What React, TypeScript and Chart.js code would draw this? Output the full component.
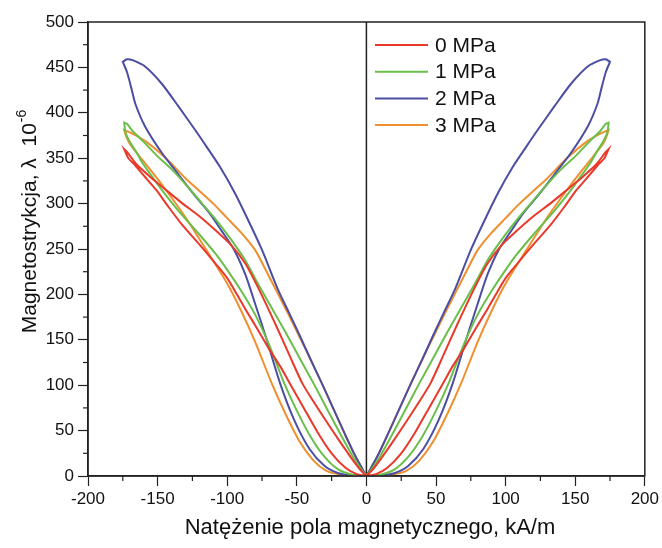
import React, { useEffect, useRef } from 'react';
import { Chart, registerables } from 'chart.js';
Chart.register(...registerables);

const seriesLabels = ['0 MPa', '1 MPa', '2 MPa', '3 MPa'];
const seriesColors = ['#e8392b', '#6abf4b', '#4b4ea3', '#ef8f2f'];

// Right half of each butterfly loop: [H (kA/m), λ (1e-6)]
// outer (rising) branch from 0 to the tip, inner (falling) branch back to 0
const rise0 = [[0,0],[5,8],[10,18],[20,40],[30,63],[38,82],[46,102],[55,132],[65,166],[77,205],[87,234],[97,254],[108,270],[120,286],[132,300],[144,315],[155,329],[165,343],[172,357],[174,360]];
const fall0 = [[174,360],[171,350],[166,342],[160,331],[151,315],[142,296],[132,276],[120,255],[109,235],[100,218],[93,200],[87,184],[78,161],[70,140],[62,121],[55,102],[45,75],[35,48],[25,25],[15,9],[7,2],[0,0]];

const rise1 = [[0,0],[5,10],[10,22],[19,47],[28,73],[38,102],[48,130],[58,158],[68,185],[78,212],[88,240],[98,262],[108,282],[118,300],[128,318],[140,338],[150,352],[160,368],[168,380],[172,388],[174,389]];
const fall1 = [[174,389],[173,378],[170,368],[165,356],[161,345],[154,330],[147,315],[135,292],[120,266],[108,244],[100,227],[90,204],[80,178],[70,145],[59,102],[50,72],[40,43],[30,21],[20,7],[10,1.5],[0,0]];

const rise2 = [[0,0],[8,22],[16,48],[24,75],[32,102],[40,128],[48,155],[56,181],[64,207],[75,249],[85,282],[95,313],[105,340],[115,363],[123,381],[135,407],[147,432],[159,451],[168,458],[172,459],[175,456]];
const fall2 = [[175,456],[172,445],[169,428],[166,410],[159,385],[147,356],[135,332],[125,312],[113,290],[104,270],[95,249],[87,222],[80,190],[72,152],[62,102],[52,62],[41,30],[30,11],[20,3],[10,0.5],[0,0]];

const rise3 = [[0,0],[8,22],[16,48],[24,75],[32,102],[40,128],[48,153],[56,178],[64,202],[72,226],[80,249],[90,268],[100,284],[110,300],[120,314],[130,328],[144,350],[158,368],[168,377],[174,381]];
const fall3 = [[174,381],[172,372],[170,366],[163,352],[154,335],[144,315],[130,285],[115,249],[100,212],[90,182],[80,148],[68,102],[58,68],[48,38],[38,17],[29,6],[20,2],[10,0.5],[0,0]];

const xMinorTicks = [-175, -125, -75, -25, 25, 75, 125, 175];
const yMinorTicks = [25, 75, 125, 175, 225, 275, 325, 375, 425, 475];

const xTitle = 'Natężenie pola magnetycznego, kA/m';
const yTitle = 'Magnetostrykcja, λ  10';
const yTitleSup = '-6';

const FONT = '"Liberation Sans", Arial, sans-serif';

function loop(rise: number[][], fall: number[][]) {
  const half = [...rise, ...fall];
  const right = half.map(([x, y]) => ({ x, y }));
  const left = half.map(([x, y]) => ({ x: -x, y }));
  return [...right, ...left];
}

const seriesData = [loop(rise0, fall0), loop(rise1, fall1), loop(rise2, fall2), loop(rise3, fall3)];

const decor = {
  id: 'decor',
  beforeDatasetsDraw(chart: any) {
    const { ctx, chartArea: a, scales } = chart;
    const px = scales.x.getPixelForValue(0);
    ctx.save();
    ctx.strokeStyle = '#222';
    ctx.lineWidth = 1.5;
    ctx.beginPath();
    ctx.moveTo(px, a.top);
    ctx.lineTo(px, a.bottom);
    ctx.stroke();
    ctx.restore();
  },
  afterDraw(chart: any) {
    const { ctx, chartArea: a, scales } = chart;
    ctx.save();
    ctx.strokeStyle = '#222';
    ctx.lineWidth = 1.5;
    ctx.strokeRect(a.left, a.top, a.right - a.left, a.bottom - a.top);
    ctx.lineWidth = 1.2;
    for (const v of xMinorTicks) {
      const p = scales.x.getPixelForValue(v);
      ctx.beginPath();
      ctx.moveTo(p, a.bottom);
      ctx.lineTo(p, a.bottom + 5);
      ctx.stroke();
    }
    for (const v of yMinorTicks) {
      const p = scales.y.getPixelForValue(v);
      ctx.beginPath();
      ctx.moveTo(a.left, p);
      ctx.lineTo(a.left - 5, p);
      ctx.stroke();
    }
    // legend
    ctx.font = `21px ${FONT}`;
    ctx.textBaseline = 'middle';
    ctx.textAlign = 'left';
    seriesLabels.forEach((lab, i) => {
      const yy = 45 + i * 26.7;
      ctx.strokeStyle = seriesColors[i];
      ctx.lineWidth = 2;
      ctx.beginPath();
      ctx.moveTo(375, yy);
      ctx.lineTo(428, yy);
      ctx.stroke();
      ctx.fillStyle = '#111';
      ctx.fillText(lab, 435, yy + 1);
    });
    // x title
    ctx.font = `22px ${FONT}`;
    ctx.textAlign = 'center';
    ctx.fillStyle = '#111';
    ctx.fillText(xTitle, 370, 528);
    // y title
    ctx.translate(30, 222);
    ctx.rotate(-Math.PI / 2);
    ctx.font = `21px ${FONT}`;
    const w1 = ctx.measureText(yTitle).width;
    ctx.font = `14px ${FONT}`;
    const w2 = ctx.measureText(yTitleSup).width;
    const start = -(w1 + w2) / 2;
    ctx.textAlign = 'left';
    ctx.font = `21px ${FONT}`;
    ctx.fillText(yTitle, start, 0);
    ctx.font = `14px ${FONT}`;
    ctx.fillText(yTitleSup, start + w1 + 1, -8);
    ctx.restore();
  },
};

export default function App() {
  const ref = useRef<HTMLCanvasElement>(null);
  useEffect(() => {
    if (!ref.current) return;
    const chart = new Chart(ref.current, {
      type: 'scatter',
      data: {
        datasets: seriesData.map((d, i) => ({
          label: seriesLabels[i],
          data: d,
          showLine: true,
          borderColor: seriesColors[i],
          backgroundColor: seriesColors[i],
          borderWidth: 2,
          pointRadius: 0,
          tension: 0.25,
          fill: false,
        })),
      },
      options: {
        responsive: false,
        maintainAspectRatio: false,
        animation: false,
        layout: { padding: { top: 22, right: 14, left: 0, bottom: 0 } },
        plugins: { legend: { display: false }, tooltip: { enabled: false } },
        scales: {
          x: {
            type: 'linear',
            min: -200,
            max: 200,
            afterFit: (s: any) => { s.height = 72; },
            ticks: {
              stepSize: 50,
              color: '#111',
              padding: 3,
              maxRotation: 0,
              font: { family: FONT, size: 17 },
              callback: (v: any) => String(v),
            },
            grid: { drawOnChartArea: false, tickLength: 10, tickColor: '#222', tickWidth: 1.2 },
            border: { display: true, color: '#222', width: 1.5 },
          },
          y: {
            type: 'linear',
            min: 0,
            max: 500,
            afterFit: (s: any) => { s.width = 88; },
            ticks: {
              stepSize: 50,
              color: '#111',
              padding: 4,
              font: { family: FONT, size: 17 },
              callback: (v: any) => String(v),
            },
            grid: { drawOnChartArea: false, tickLength: 10, tickColor: '#222', tickWidth: 1.2 },
            border: { display: true, color: '#222', width: 1.5 },
          },
        },
      },
      plugins: [decor],
    });
    return () => chart.destroy();
  }, []);
  return (
    <div style={{ position: 'absolute', left: 0, top: 0, width: 662, height: 548, background: '#fff' }}>
      <canvas ref={ref} width={662} height={548} style={{ display: 'block' }} />
    </div>
  );
}
